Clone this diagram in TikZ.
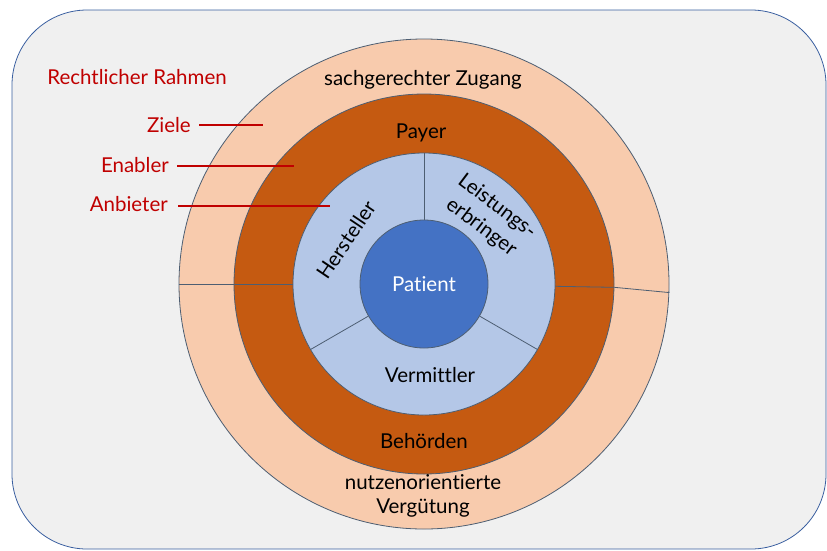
\documentclass[tikz,border=0pt]{standalone}
\usepackage{fontspec}
\setmainfont[Ligatures={NoCommon}]{Lato}
\definecolor{bg}{HTML}{F0F0F0}
\definecolor{frame}{HTML}{3A5FA0}
\definecolor{peach}{HTML}{F8CBAD}
\definecolor{rust}{HTML}{C55A11}
\definecolor{lightblue}{HTML}{B4C7E7}
\definecolor{patientblue}{HTML}{4472C4}
\definecolor{ringline}{HTML}{4D5E72}
\definecolor{redtxt}{HTML}{C00000}
\begin{document}
\begin{tikzpicture}[x=1pt,y=-1pt,
  ring/.style={circle, draw=ringline, line width=0.8pt, inner sep=0pt, minimum size=#1},
  lbl/.style={font=\fontsize{20.5}{26}\selectfont, text=black, inner sep=0pt, align=center},
  redlbl/.style={font=\fontsize{20.5}{24}\selectfont, text=redtxt, inner sep=0pt},
  redline/.style={draw=redtxt, line width=1.6pt},
  divider/.style={draw=ringline, line width=0.8pt}]
\useasboundingbox (0,0) rectangle (827,550);
\draw[fill=bg, draw=frame, line width=0.8pt, rounded corners=75pt] (12,10) rectangle (826,549);
\node[ring=490pt, fill=peach] (outer) at (424,284) {};
\node[ring=380pt, fill=rust] (mid) at (424,284) {};
\node[ring=262pt, fill=lightblue] (inner) at (424,284) {};
\node[ring=128pt, fill=patientblue, lbl, text=white] (patient) at (424,284) {Patient};
\draw[divider] (outer.180) -- (mid.180);
\draw[divider] (mid.180) -- (inner.180);
\draw[divider] (inner.359.5) -- (mid.359);
\draw[divider] (mid.359) -- (outer.358.5);
\draw[divider] (patient.90) -- (inner.90);
\draw[divider] (patient.210) -- (inner.210);
\draw[divider] (patient.330) -- (inner.330);
\node[lbl] (zugang) at (423,80) {sachgerechter Zugang};
\node[lbl] (payer) at (421,133) {Payer};
\node[lbl, rotate=56] (hersteller) at (346,240) {Hersteller};
\node[lbl, rotate=-37] (leistung) at (489,217) {Leistungs-\\erbringer};
\node[lbl] (vermittler) at (430,375) {Vermittler};
\node[lbl] (behoerden) at (424,441) {Behörden};
\node[lbl, font=\fontsize{20.5}{24}\selectfont] (verguetung) at (423,496) {nutzenorientierte\\Vergütung};
\node[redlbl] (rahmen) at (137,77) {Rechtlicher Rahmen};
\node[redlbl, anchor=east] (ziele) at (191,125) {Ziele};
\coordinate (zieleEnd) at (263,125);
\draw[redline] ([xshift=8pt]ziele.east) -- (zieleEnd);
\node[redlbl, anchor=east] (enabler) at (169,165) {Enabler};
\coordinate (enablerEnd) at (294,166);
\draw[redline] ([xshift=8pt]enabler.east |- enablerEnd) -- (enablerEnd);
\node[redlbl, anchor=east] (anbieter) at (168,204) {Anbieter};
\coordinate (anbieterEnd) at (330,206);
\draw[redline] ([xshift=10pt]anbieter.east |- anbieterEnd) -- (anbieterEnd);
\end{tikzpicture}
\end{document}
